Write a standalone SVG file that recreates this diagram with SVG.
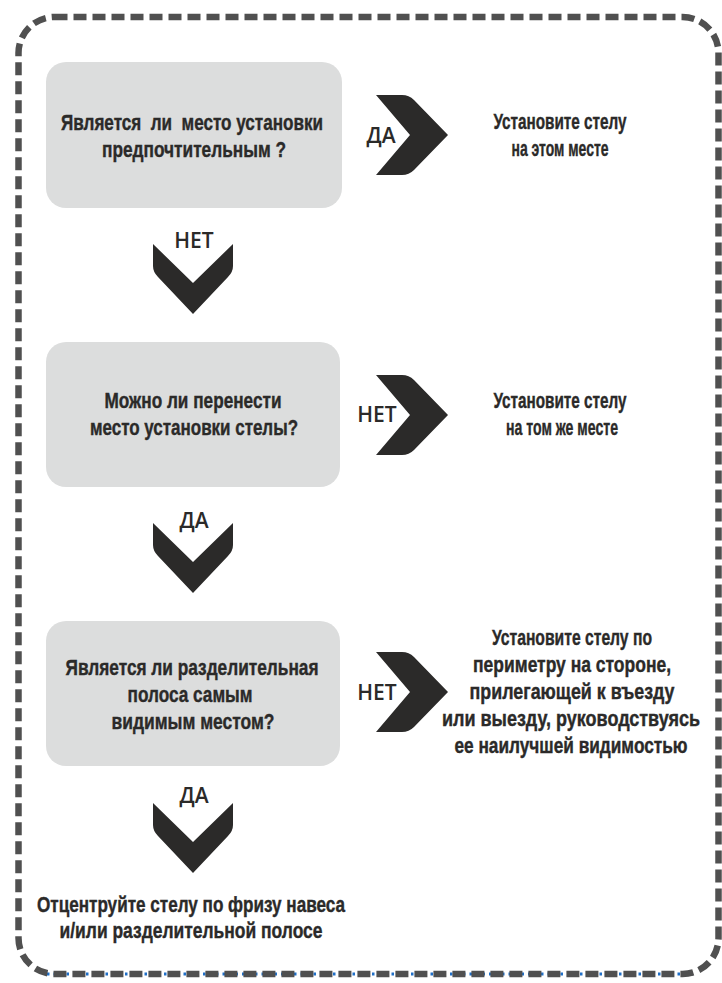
<svg xmlns="http://www.w3.org/2000/svg" width="722" height="983" viewBox="0 0 722 983">
<style>
.box{fill:#dcdddd;}
.t{font-family:"Liberation Sans",Arial,sans-serif;font-weight:bold;font-size:22px;fill:#2b2a29;stroke:#2b2a29;stroke-width:0.4;text-anchor:middle;white-space:pre;}
.lab{font-family:"Open Sans","DejaVu Sans",sans-serif;font-weight:600;font-size:21px;fill:#2b2a29;text-anchor:middle;}
.chev{fill:#2b2a29;}
</style>
<defs>
<path id="chevR" d="M0,0 L26,0 Q33,0 38,5 L72,40 L38,75 Q33,80 26,80 L0,80 L34,40 Z"/>
<path id="chevD" d="M0,0 L40,39 L80,0 L80,22 Q80,28 75,33 L40,70 L5,33 Q0,28 0,22 Z"/>
</defs>
<rect width="722" height="983" fill="#ffffff"/>
<g id="frame">
<line x1="47" y1="974" x2="697" y2="974" stroke="#1f6fc8" stroke-width="3" stroke-dasharray="2.5 4"/>
<rect x="18.5" y="17" width="700" height="957" rx="36" fill="none" stroke="#505050" stroke-width="6.5" stroke-dasharray="13 6"/>
</g>
<g id="q1">
<rect class="box" x="46" y="62" width="296" height="146" rx="20"/>
<text class="t" xml:space="preserve" transform="matrix(0.8 0 0 1 192 130)" textLength="327.5" lengthAdjust="spacingAndGlyphs">Является  ли  место установки</text>
<text class="t" transform="matrix(0.8 0 0 1 194 157)" textLength="230" lengthAdjust="spacingAndGlyphs">предпочтительным ?</text>
</g>
<g id="a1">
<text class="t" transform="matrix(0.8 0 0 1 560 129)" textLength="166.25" lengthAdjust="spacingAndGlyphs">Установите стелу</text>
<text class="t" transform="matrix(0.8 0 0 1 560 156)" textLength="121.25" lengthAdjust="spacingAndGlyphs">на этом месте</text>
</g>
<g id="q2">
<rect class="box" x="46" y="342" width="294" height="145" rx="20"/>
<text class="t" transform="matrix(0.8 0 0 1 193 408)" textLength="221.25" lengthAdjust="spacingAndGlyphs">Можно ли перенести</text>
<text class="t" transform="matrix(0.8 0 0 1 194 435)" textLength="260" lengthAdjust="spacingAndGlyphs">место установки стелы?</text>
</g>
<g id="a2">
<text class="t" transform="matrix(0.8 0 0 1 560 408)" textLength="166.25" lengthAdjust="spacingAndGlyphs">Установите стелу</text>
<text class="t" transform="matrix(0.8 0 0 1 562 435)" textLength="140" lengthAdjust="spacingAndGlyphs">на том же месте</text>
</g>
<g id="q3">
<rect class="box" x="46" y="621" width="294" height="145" rx="20"/>
<text class="t" transform="matrix(0.8 0 0 1 192 675)" textLength="316.25" lengthAdjust="spacingAndGlyphs">Является ли разделительная</text>
<text class="t" transform="matrix(0.8 0 0 1 190 702)" textLength="156.25" lengthAdjust="spacingAndGlyphs">полоса самым</text>
<text class="t" transform="matrix(0.8 0 0 1 193 729)" textLength="203.75" lengthAdjust="spacingAndGlyphs">видимым местом?</text>
</g>
<g id="a3">
<text class="t" transform="matrix(0.8 0 0 1 572 645)" textLength="200" lengthAdjust="spacingAndGlyphs">Установите стелу по</text>
<text class="t" transform="matrix(0.8 0 0 1 572 672)" textLength="247.5" lengthAdjust="spacingAndGlyphs">периметру на стороне,</text>
<text class="t" transform="matrix(0.8 0 0 1 572 699)" textLength="256.25" lengthAdjust="spacingAndGlyphs">прилегающей к въезду</text>
<text class="t" transform="matrix(0.8 0 0 1 571 726)" textLength="322.5" lengthAdjust="spacingAndGlyphs">или выезду, руководствуясь</text>
<text class="t" transform="matrix(0.8 0 0 1 571 753)" textLength="291.25" lengthAdjust="spacingAndGlyphs">ее наилучшей видимостью</text>
</g>
<g id="a4">
<text class="t" transform="matrix(0.8 0 0 1 191 912)" textLength="385" lengthAdjust="spacingAndGlyphs">Отцентруйте стелу по фризу навеса</text>
<text class="t" transform="matrix(0.8 0 0 1 191 938)" textLength="328.75" lengthAdjust="spacingAndGlyphs">и/или разделительной полосе</text>
</g>
<g id="connectors">
<use href="#chevR" class="chev" x="376" y="95"/>
<text class="lab" x="381" y="143">ДА</text>
<use href="#chevD" class="chev" x="153" y="244"/>
<text class="lab" x="194" y="248">НЕТ</text>
<use href="#chevR" class="chev" x="376" y="375"/>
<text class="lab" x="377" y="422">НЕТ</text>
<use href="#chevD" class="chev" x="153" y="523"/>
<text class="lab" x="194" y="528">ДА</text>
<use href="#chevR" class="chev" x="376" y="652"/>
<text class="lab" x="377" y="700">НЕТ</text>
<use href="#chevD" class="chev" x="153" y="803"/>
<text class="lab" x="194" y="803">ДА</text>
</g>
</svg>
